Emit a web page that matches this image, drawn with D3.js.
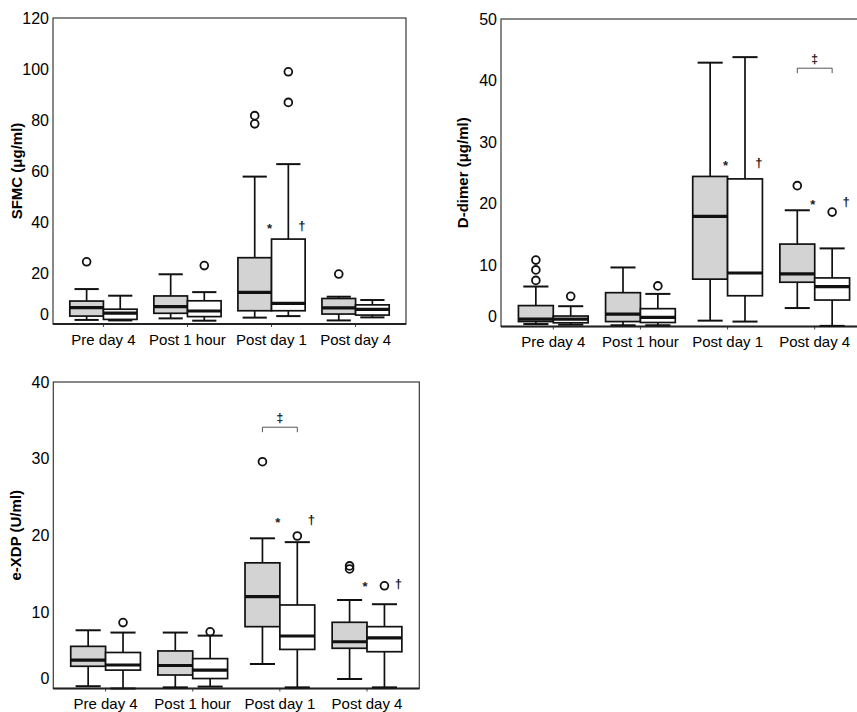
<!DOCTYPE html>
<html>
<head>
<meta charset="utf-8">
<script src="https://cdn.jsdelivr.net/npm/d3@7"></script>
<style>
  html, body { margin: 0; padding: 0; background: #fff; }
  svg { display: block; font-family: "Liberation Sans", Arial, sans-serif; }
</style>
</head>
<body>
<svg id="chart" width="857" height="712"></svg>
<script>
// Sampling time points shared by all three panels
const categories = ["Pre day 4", "Post 1 hour", "Post day 1", "Post day 4"];

// Five-number summaries per time point: [lower whisker, Q1, median, Q3, upper whisker]
// Series A = shaded boxes, series B = open boxes

// SFMC (µg/ml)
const sfmcTicks = [0, 20, 40, 60, 80, 100, 120];
const sfmcA = [[1.6, 3.1, 6.4, 9.0, 13.7], [2.2, 4.2, 6.8, 11.0, 19.5], [2.5, 5.2, 12.4, 26.0, 57.8], [1.4, 3.9, 6.3, 10.0, 10.7]];
const sfmcB = [[1.4, 1.8, 4.3, 5.8, 11.1], [1.3, 2.9, 5.1, 9.1, 12.5], [3.1, 5.2, 8.1, 33.3, 62.7], [2.6, 3.5, 5.7, 7.5, 9.4]];
const sfmcAOut = [[24.4], [], [81.7, 78.5], [19.6]];
const sfmcBOut = [[], [22.9], [98.9, 86.9], []];
const sfmcMarks = [{ category: "Post day 1", level: 38.4 }];
const sfmcBrackets = [];

// D-dimer (µg/ml)
const ddimerTicks = [0, 10, 20, 30, 40, 50];
const ddimerA = [[0.4, 0.8, 1.2, 3.4, 6.5], [0.2, 0.8, 2.0, 5.5, 9.6], [0.95, 7.7, 17.9, 24.4, 42.9], [3.0, 7.2, 8.55, 13.4, 18.9]];
const ddimerB = [[0.3, 0.6, 1.2, 1.7, 3.3], [0.2, 0.65, 1.5, 2.9, 5.3], [0.8, 5.0, 8.7, 24.0, 43.8], [0.1, 4.3, 6.5, 7.9, 12.7]];
const ddimerAOut = [[10.8, 9.2, 7.5], [], [], [22.9]];
const ddimerBOut = [[4.9], [6.6], [], [18.6]];
const ddimerMarks = [{ category: "Post day 1", level: 26.6 }, { category: "Post day 4", level: 20.3 }];
const ddimerBrackets = [{ category: "Post day 4", level: 42.0 }];

// e-XDP (U/ml)
const exdpTicks = [0, 10, 20, 30, 40];
const exdpA = [[0.3, 2.9, 3.7, 5.5, 7.6], [0.15, 1.76, 3.0, 4.9, 7.3], [3.2, 8.07, 12.0, 16.4, 19.6], [1.24, 5.25, 6.1, 8.64, 11.55]];
const exdpB = [[0.0, 2.4, 3.07, 4.7, 7.3], [0.25, 1.3, 2.4, 3.9, 6.9], [0.15, 5.1, 6.85, 10.9, 19.1], [0.15, 4.8, 6.6, 8.07, 11.0]];
const exdpAOut = [[], [], [29.6], [16.0, 15.6]];
const exdpBOut = [[8.6], [7.4], [19.9], [13.4]];
const exdpMarks = [{ category: "Post day 1", level: 22.0 }, { category: "Post day 4", level: 13.7 }];
const exdpBrackets = [{ category: "Post day 1", level: 34.1 }];

// Panel layout
const panels = [
  { title: "SFMC (\u03BCg/ml)", ticks: sfmcTicks, A: sfmcA, B: sfmcB, AOut: sfmcAOut, BOut: sfmcBOut,
    marks: sfmcMarks, brackets: sfmcBrackets, left: 53, top: 18, width: 353, bottom: 324, titleX: 17 },
  { title: "D-dimer (\u03BCg/ml)", ticks: ddimerTicks, A: ddimerA, B: ddimerB, AOut: ddimerAOut, BOut: ddimerBOut,
    marks: ddimerMarks, brackets: ddimerBrackets, left: 501, top: 19, width: 366, bottom: 326.5, titleX: 463 },
  { title: "e-XDP (U/ml)", ticks: exdpTicks, A: exdpA, B: exdpB, AOut: exdpAOut, BOut: exdpBOut,
    marks: exdpMarks, brackets: exdpBrackets, left: 53.3, top: 382, width: 366, bottom: 688.5, titleX: 16 }
];

const svg = d3.select("#chart");
svg.append("rect").attr("width", 857).attr("height", 712).attr("fill", "#fff");

const ink = "#111";
const shade = "#d3d3d3";

function drawPanel(p) {
  const g = svg.append("g");
  const yMax = p.ticks[p.ticks.length - 1];

  const x = d3.scaleBand().domain(categories)
    .range([p.left, p.left + p.width]).paddingInner(0).paddingOuter(0.1);
  const step = x.step();
  const center = c => x(c) + x.bandwidth() / 2;
  const sub = d3.scaleBand().domain(["A", "B"]).range([-0.4 * step, 0.4 * step]);
  const y = d3.scaleLinear().domain([0, yMax]).range([p.bottom, p.top]);

  // frame
  g.append("rect")
    .attr("x", p.left).attr("y", p.top)
    .attr("width", p.width).attr("height", p.bottom - p.top)
    .attr("fill", "none").attr("stroke", "#3a3a3a").attr("stroke-width", 1.2);

  // y axis labels
  const yAxis = g.append("g").attr("transform", `translate(${p.left},0)`)
    .call(d3.axisLeft(y).tickValues(p.ticks).tickSize(0).tickPadding(4).tickFormat(d3.format("d")));
  yAxis.select(".domain").remove();
  yAxis.selectAll("text")
    .attr("font-size", 16).attr("fill", "#000")
    .attr("font-family", "'Liberation Sans', Arial, sans-serif")
    .filter(d => d === 0).attr("dy", "-0.3em");

  // x axis
  const xAxis = g.append("g").attr("transform", `translate(0,${p.bottom})`)
    .call(d3.axisBottom(x).tickSize(3).tickPadding(7));
  xAxis.select(".domain").remove();
  xAxis.selectAll("line").attr("stroke", "#444");
  xAxis.selectAll("text")
    .attr("font-size", 15).attr("fill", "#000")
    .attr("font-family", "'Liberation Sans', Arial, sans-serif");
  g.append("line")
    .attr("x1", p.left).attr("x2", p.left + p.width)
    .attr("y1", p.bottom).attr("y2", p.bottom)
    .attr("stroke", "#222").attr("stroke-width", 1.8);

  // y title
  g.append("text")
    .attr("transform", `translate(${p.titleX},${(p.top + p.bottom) / 2}) rotate(-90)`)
    .attr("dy", "0.35em")
    .attr("text-anchor", "middle")
    .attr("font-size", 15).attr("font-weight", "bold").attr("fill", "#000")
    .text(p.title);

  // boxes
  const series = [
    { key: "A", stats: p.A, out: p.AOut, fill: shade },
    { key: "B", stats: p.B, out: p.BOut, fill: "#fff" }
  ];
  series.forEach(s => {
    const bw = sub.bandwidth();
    categories.forEach((c, i) => {
      const [lo, q1, med, q3, hi] = s.stats[i];
      const x0 = center(c) + sub(s.key);
      const xm = x0 + bw / 2;
      const cap = bw * 0.36;
      const bg = g.append("g");
      // whiskers
      bg.append("line").attr("x1", xm).attr("x2", xm).attr("y1", y(hi)).attr("y2", y(q3))
        .attr("stroke", ink).attr("stroke-width", 1.7);
      bg.append("line").attr("x1", xm).attr("x2", xm).attr("y1", y(q1)).attr("y2", y(lo))
        .attr("stroke", ink).attr("stroke-width", 1.7);
      bg.append("line").attr("x1", xm - cap).attr("x2", xm + cap).attr("y1", y(hi)).attr("y2", y(hi))
        .attr("stroke", ink).attr("stroke-width", 2);
      bg.append("line").attr("x1", xm - cap).attr("x2", xm + cap).attr("y1", y(lo)).attr("y2", y(lo))
        .attr("stroke", ink).attr("stroke-width", 2);
      // box
      bg.append("rect").attr("x", x0).attr("y", y(q3))
        .attr("width", bw).attr("height", Math.max(0.5, y(q1) - y(q3)))
        .attr("fill", s.fill).attr("stroke", ink).attr("stroke-width", 1.7);
      // median
      bg.append("line").attr("x1", x0).attr("x2", x0 + bw).attr("y1", y(med)).attr("y2", y(med))
        .attr("stroke", ink).attr("stroke-width", 3.2);
      // outliers
      s.out[i].forEach(v => {
        bg.append("circle").attr("cx", xm).attr("cy", y(v)).attr("r", 3.9)
          .attr("fill", "none").attr("stroke", ink).attr("stroke-width", 1.8);
      });
    });
  });

  // significance markers
  p.marks.forEach(m => {
    const cx = center(m.category);
    g.append("text").attr("x", cx - 2).attr("y", y(m.level)).attr("dy", "0.55em")
      .attr("text-anchor", "middle").attr("font-size", 13).attr("font-weight", "bold").attr("fill", "#222")
      .text("*");
    g.append("text").attr("x", cx + 0.36 * step).attr("y", y(m.level)).attr("dy", "0.32em")
      .attr("text-anchor", "middle").attr("font-size", 13).attr("font-weight", "bold").attr("fill", "#111")
      .text("\u2020");
  });

  // brackets between the paired boxes
  p.brackets.forEach(b => {
    const cx = center(b.category);
    const xa = cx + sub("A") + sub.bandwidth() / 2;
    const xb = cx + sub("B") + sub.bandwidth() / 2;
    const yb = y(b.level);
    g.append("path")
      .attr("d", `M${xa},${yb + 5}V${yb}H${xb}V${yb + 5}`)
      .attr("fill", "none").attr("stroke", "#555").attr("stroke-width", 1);
    g.append("text").attr("x", cx).attr("y", yb - 9).attr("dy", "0.32em")
      .attr("text-anchor", "middle").attr("font-size", 12).attr("font-weight", "bold").attr("fill", "#222")
      .text("\u2021");
  });
}

panels.forEach(drawPanel);
</script>
</body>
</html>
